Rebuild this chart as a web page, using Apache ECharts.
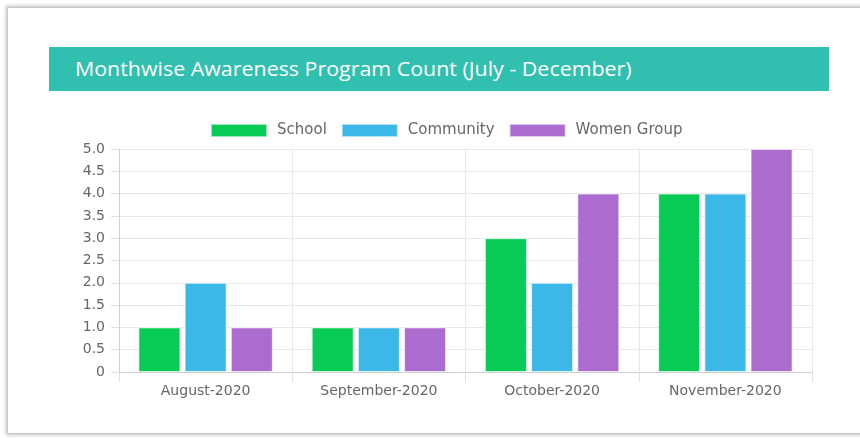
<!DOCTYPE html>
<html>
<head>
<meta charset="utf-8">
<script src="https://cdn.jsdelivr.net/npm/echarts@6/dist/echarts.min.js"></script>
<style>
  html, body { margin: 0; padding: 0; background: #fff; }
  body { width: 860px; height: 438px; position: relative; overflow: hidden; }
  .card {
    position: absolute; left: 7px; top: 7px; width: 900px; height: 425px;
    background: #fff;
    border: 1px solid #c8c8c8;
    box-shadow: 0 0 4px 1px rgba(0, 0, 0, 0.25);
  }
  .header {
    position: absolute; left: 49px; top: 47px; width: 780px; height: 44px;
    background: #31bfb0;
    color: #fff;
    font-family: "Open Sans", sans-serif;
    font-size: 20px;
    line-height: 44px;
    box-sizing: border-box;
    padding-left: 26px;
  }
  .header span { display: inline-block; transform: scaleX(1.07); transform-origin: left center; }
  #chart { position: absolute; left: 0; top: 0; width: 860px; height: 438px; }
</style>
</head>
<body>
<div class="card"></div>
<div class="header"><span>Monthwise Awareness Program Count (July - December)</span></div>
<div id="chart"></div>
<script>
const months = ['August-2020', 'September-2020', 'October-2020', 'November-2020'];
const school = [1, 1, 3, 4];
const community = [2, 1, 2, 4];
const womenGroup = [1, 1, 4, 5];
const seriesNames = ['School', 'Community', 'Women Group'];
const colors = ['#08cb55', '#3bb8e8', '#ab6bcf'];

const font = 'DejaVu Sans';
const chart = echarts.init(document.getElementById('chart'));

function barSeries(name, data, color) {
  return {
    name: name,
    type: 'bar',
    data: data,
    barWidth: 42,
    barGap: '10%',
    itemStyle: { color: color, borderColor: 'rgba(255,255,255,0.6)', borderWidth: 1 },
    emphasis: { disabled: true }
  };
}

chart.setOption({
  animation: false,
  color: colors,
  textStyle: { fontFamily: font },
  legend: {
    left: 210,
    top: 123,
    padding: 0,
    itemWidth: 56,
    itemHeight: 13,
    itemGap: 14,
    icon: 'rect',
    textStyle: { color: '#666', fontSize: 15, fontFamily: font, padding: [0, 0, 0, 5] },
    data: seriesNames
  },
  grid: { left: 119, right: 48, top: 149, bottom: 66 },
  xAxis: {
    type: 'category',
    data: months,
    axisLine: { lineStyle: { color: '#d0d0d0' } },
    axisTick: { show: true, length: 10, lineStyle: { color: '#e0e0e0' } },
    splitLine: { show: true, lineStyle: { color: '#e8e8e8' } },
    axisLabel: { color: '#666', fontSize: 14, fontFamily: font, margin: 12 }
  },
  yAxis: {
    type: 'value',
    min: 0,
    max: 5,
    interval: 0.5,
    axisLine: { show: true, lineStyle: { color: '#d0d0d0' } },
    axisTick: { show: true, length: 8, lineStyle: { color: '#e0e0e0' } },
    splitLine: { lineStyle: { color: '#e8e8e8' } },
    axisLabel: {
      color: '#666', fontSize: 14, fontFamily: font, margin: 14,
      formatter: function (v) { return v === 0 ? '0' : v.toFixed(1); }
    }
  },
  series: [
    barSeries(seriesNames[0], school, colors[0]),
    barSeries(seriesNames[1], community, colors[1]),
    barSeries(seriesNames[2], womenGroup, colors[2])
  ]
});
</script>
</body>
</html>
